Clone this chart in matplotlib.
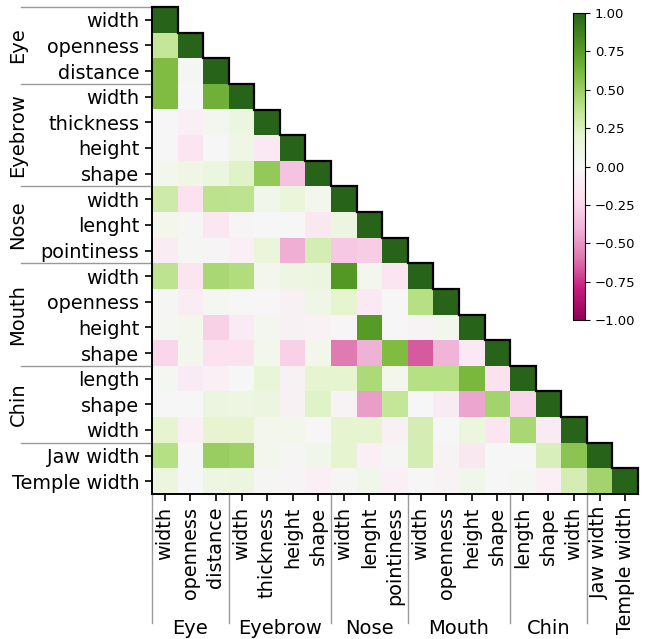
import numpy as np
import matplotlib
matplotlib.use("Agg")
import matplotlib.pyplot as plt
from matplotlib.transforms import blended_transform_factory
from matplotlib.ticker import FuncFormatter

# ---- data ----
feature_labels = ["width", "openness", "distance",
                  "width", "thickness", "height", "shape",
                  "width", "lenght", "pointiness",
                  "width", "openness", "height", "shape",
                  "length", "shape", "width",
                  "Jaw width", "Temple width"]
groups = ["Eye", "Eyebrow", "Nose", "Mouth", "Chin"]
group_sizes = [3, 4, 3, 4, 3]

lower_rows = [
    [],
    [0.35],
    [0.6, 0.03],
    [0.6, 0.0, 0.65],
    [0.0, -0.07, 0.04, 0.12],
    [0.0, -0.15, 0.0, 0.08, -0.12],
    [0.06, 0.08, 0.13, 0.22, 0.53, -0.33],
    [0.3, -0.18, 0.38, 0.37, 0.07, 0.15, 0.05],
    [0.06, 0.02, -0.14, -0.02, 0.0, 0.0, -0.13, 0.12],
    [-0.09, 0.02, -0.02, -0.07, 0.15, -0.42, 0.28, -0.31, -0.29],
    [0.37, -0.15, 0.45, 0.42, 0.05, 0.1, 0.12, 0.77, 0.05, -0.15],
    [0.02, -0.08, 0.03, 0.0, -0.01, -0.05, 0.08, 0.2, -0.11, 0.0, 0.4],
    [0.03, 0.06, -0.27, -0.1, 0.04, -0.05, -0.04, -0.01, 0.75, 0.0, -0.03, 0.05],
    [-0.25, 0.05, -0.18, -0.18, 0.06, -0.27, 0.06, -0.58, -0.41, 0.6, -0.66, -0.4, -0.12],
    [0.03, -0.1, -0.07, 0.0, 0.17, -0.05, 0.2, 0.2, 0.43, 0.06, 0.4, 0.4, 0.62, -0.18],
    [0.0, 0.0, 0.12, 0.1, 0.12, -0.05, 0.22, -0.03, -0.47, 0.35, 0.0, -0.1, -0.45, 0.47, -0.25],
    [0.2, -0.07, 0.2, 0.2, 0.06, 0.06, -0.01, 0.2, 0.2, -0.05, 0.27, 0.0, 0.13, -0.15, 0.45, -0.1],
    [0.4, 0.0, 0.5, 0.48, 0.05, 0.02, 0.07, 0.2, -0.07, 0.02, 0.28, -0.03, -0.13, 0.0, 0.0, 0.25, 0.55],
    [0.13, 0.0, 0.1, 0.12, 0.02, -0.02, -0.07, 0.02, 0.07, -0.07, 0.0, -0.03, 0.07, 0.0, 0.03, -0.07, 0.27, 0.47],
]
cbar_ticks = [1, 0.75, 0.5, 0.25, 0, -0.25, -0.5, -0.75, -1]

n = len(feature_labels)
mat = np.full((n, n), np.nan)
for i, row in enumerate(lower_rows):
    for j, v in enumerate(row):
        mat[i, j] = v
    mat[i, i] = 1.0
masked = np.ma.masked_invalid(mat)

# ---- figure ----
W, H = 647, 639
fig = plt.figure(figsize=(W / 100, H / 100), dpi=100)
ax = fig.add_axes([152 / W, 1 - 494 / H, 486 / W, 487 / H])
cax = fig.add_axes([573 / W, 1 - 320 / H, 12 / W, 307 / H])

im = ax.imshow(masked, cmap="PiYG", vmin=-1, vmax=1, aspect="auto",
               interpolation="nearest", extent=(-0.5, n - 0.5, n - 0.5, -0.5))
ax.set_xlim(-0.5, n - 0.5)
ax.set_ylim(n - 0.5, -0.5)

# staircase outline along the diagonal
sx, sy = [-0.5], [-0.5]
for k in range(n):
    sx += [k + 0.5, k + 0.5]
    sy += [k - 0.5, k + 0.5]
ax.plot(sx, sy, color="black", lw=1.6, solid_joinstyle="miter", clip_on=False, zorder=5)

for s in ["top", "right"]:
    ax.spines[s].set_visible(False)
for s in ["left", "bottom"]:
    ax.spines[s].set_linewidth(1.4)

ax.set_xticks(range(n))
ax.set_yticks(range(n))
ax.set_xticklabels(feature_labels, rotation=90, fontsize=13.9)
ax.set_yticklabels(feature_labels, fontsize=13.9)
ax.tick_params(axis="both", length=5, width=1.2, pad=4)

# group separators and labels
ty = blended_transform_factory(ax.transAxes, ax.transData)
tx = blended_transform_factory(ax.transData, ax.transAxes)
bounds = np.concatenate([[0], np.cumsum(group_sizes)])
left_end = (21 - 152) / 486
bottom_end = (494 - 623) / 487
for b in bounds:
    ax.plot([left_end, 0], [b - 0.5, b - 0.5], transform=ty, color="#999999",
            lw=1.0, clip_on=False, zorder=1)
    ax.plot([b - 0.5, b - 0.5], [bottom_end, 0], transform=tx, color="#999999",
            lw=1.0, clip_on=False, zorder=1)
for g, s, e in zip(groups, bounds[:-1], bounds[1:]):
    c = (s + e - 1) / 2
    ax.text((18 - 152) / 486, c, g, transform=ty, rotation=90, ha="center",
            va="center", fontsize=14)
    ax.text(c, (494 - 629) / 487, g, transform=tx, ha="center", va="center",
            fontsize=14)

cb = fig.colorbar(im, cax=cax, ticks=cbar_ticks)
cb.ax.yaxis.set_major_formatter(FuncFormatter(lambda v, p: f"{v:.2f}".replace("-", "\u2212")))
cb.ax.tick_params(labelsize=9.5)
cb.outline.set_linewidth(0.8)

fig.savefig("out.png", dpi=100)
